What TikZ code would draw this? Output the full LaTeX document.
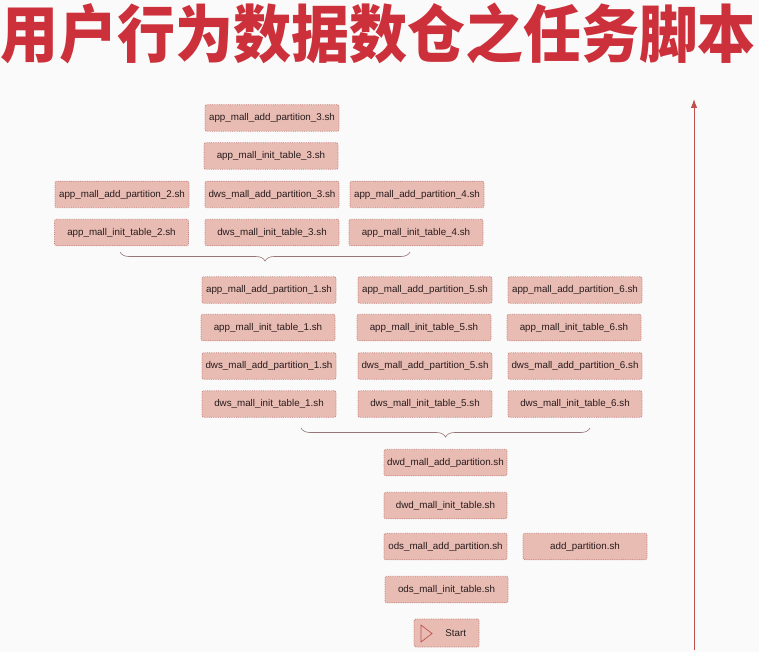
\documentclass[tikz,border=0pt]{standalone}
\usepackage{fontspec}
\setmainfont{Liberation Sans}
\newfontfamily\cjk{Noto Sans CJK SC}
\usetikzlibrary{arrows.meta,decorations.pathreplacing}
\definecolor{boxfill}{RGB}{232,187,179}
\definecolor{boxline}{RGB}{196,130,122}
\definecolor{titlered}{RGB}{204,48,58}
\definecolor{arrowred}{RGB}{192,80,77}
\definecolor{txt}{RGB}{40,28,28}
\definecolor{bg}{RGB}{250,250,250}
\definecolor{bracecol}{RGB}{150,118,120}
\tikzset{
  job/.style={draw=boxline, densely dotted, line width=0.8pt, fill=boxfill, rounded corners=2pt,
    minimum width=134pt, minimum height=26.5pt, inner sep=0pt, text=txt, font=\fontsize{9.8}{11}\selectfont},
  jobs/.style={job, minimum width=123pt},
  brc/.style={draw=bracecol, line width=0.6pt, decorate, decoration={brace, mirror, amplitude=9pt}},
}
\begin{document}
\begin{tikzpicture}[x=1pt,y=-1pt]
\fill[bg] (0,0) rectangle (759,652);
\useasboundingbox (0,0) rectangle (759,652);
\node[text=titlered, font=\cjk\bfseries\fontsize{58}{64}\selectfont, inner sep=0pt, yscale=1.08] (title) at (378,33) {用户行为数据数仓之任务脚本};

\node[job] (a3)  at (272,118)   {app\_mall\_add\_partition\_3.sh};
\node[job] (ai3) at (271,156)   {app\_mall\_init\_table\_3.sh};
\node[job] (ap2) at (122,194.5) {app\_mall\_add\_partition\_2.sh};
\node[job] (dp3) at (272,194.5) {dws\_mall\_add\_partition\_3.sh};
\node[job] (ap4) at (417,194.5) {app\_mall\_add\_partition\_4.sh};
\node[job] (ai2) at (121.5,232.5) {app\_mall\_init\_table\_2.sh};
\node[job] (di3) at (272,232.5) {dws\_mall\_init\_table\_3.sh};
\node[job] (ai4) at (416,232.5) {app\_mall\_init\_table\_4.sh};

\node[job] (ap1) at (269,290) {app\_mall\_add\_partition\_1.sh};
\node[job] (ap5) at (425,290) {app\_mall\_add\_partition\_5.sh};
\node[job] (ap6) at (575,290) {app\_mall\_add\_partition\_6.sh};
\node[job] (ai1) at (268,327.5) {app\_mall\_init\_table\_1.sh};
\node[job] (ai5) at (424,327.5) {app\_mall\_init\_table\_5.sh};
\node[job] (ai6) at (574,327.5) {app\_mall\_init\_table\_6.sh};
\node[job] (dp1) at (269,366) {dws\_mall\_add\_partition\_1.sh};
\node[job] (dp5) at (425,366) {dws\_mall\_add\_partition\_5.sh};
\node[job] (dp6) at (575,366) {dws\_mall\_add\_partition\_6.sh};
\node[job] (di1) at (269,404) {dws\_mall\_init\_table\_1.sh};
\node[job] (di5) at (425,404) {dws\_mall\_init\_table\_5.sh};
\node[job] (di6) at (575,404) {dws\_mall\_init\_table\_6.sh};

\node[jobs] (wdp) at (445.5,462.5) {dwd\_mall\_add\_partition.sh};
\node[jobs] (wdi) at (445.5,505.5) {dwd\_mall\_init\_table.sh};
\node[jobs] (odp) at (445.5,546.5) {ods\_mall\_add\_partition.sh};
\node[jobs, minimum width=124pt] (adp) at (585,546.5) {add\_partition.sh};
\node[jobs] (odi) at (446.5,589.5) {ods\_mall\_init\_table.sh};
\node[job, minimum width=65pt, minimum height=28pt, text width=55pt, align=right] (start) at (446.5,633) {Start\hspace*{8pt}};
\draw[arrowred, line width=0.7pt] (421,625) -- (432,633.5) -- (421,642) -- cycle;

\coordinate (b1l) at (120,252);
\coordinate (b1r) at (410,252);
\coordinate (b2l) at (301,428);
\coordinate (b2r) at (590,428);
\draw[brc] (b1l) -- (b1r);
\draw[brc] (b2l) -- (b2r);

\coordinate (arrbot) at (694,650);
\coordinate (arrtop) at (694,99);
\draw[arrowred, line width=1pt, -{Latex[length=9pt,width=6.5pt]}] (arrbot) -- (arrtop);
\end{tikzpicture}
\end{document}
